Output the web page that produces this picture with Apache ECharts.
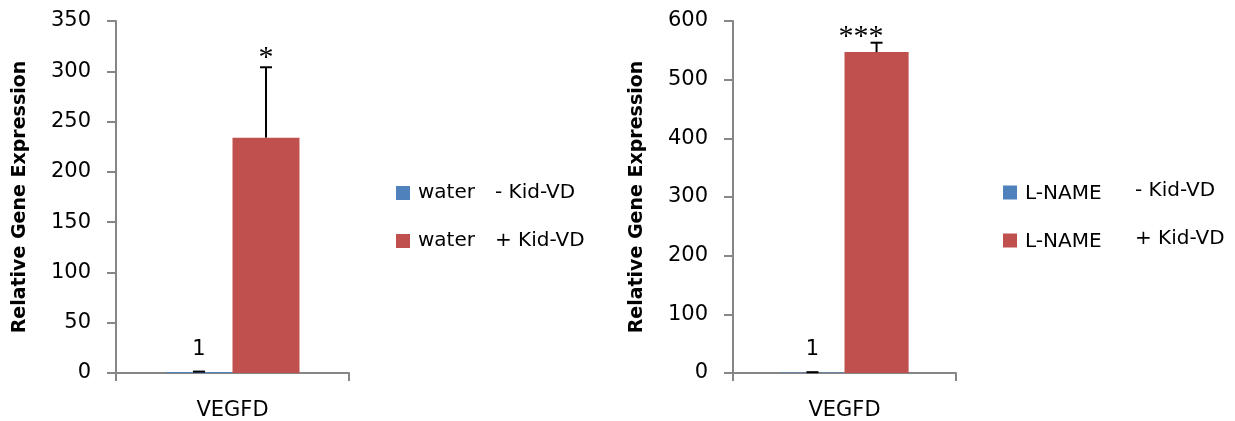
<!DOCTYPE html>
<html>
<head>
<meta charset="utf-8">
<script src="https://cdn.jsdelivr.net/npm/echarts@6/dist/echarts.min.js"></script>
<style>
  html, body { margin: 0; padding: 0; background: #ffffff; }
  #chart { width: 1235px; height: 421px; }
</style>
</head>
<body>
<div id="chart"></div>
<script>
// Gene: single category on each panel
const categories = ['VEGFD'];

// Left panel: water-treated groups
const leftNames = ['water - Kid-VD', 'water + Kid-VD'];
const leftMeans = [1, 234];
const leftErrors = [0.4, 70];
const leftMarks = ['', '*'];
const leftMax = 350;
const leftStep = 50;

// Right panel: L-NAME-treated groups
const rightNames = ['L-NAME - Kid-VD', 'L-NAME + Kid-VD'];
const rightMeans = [1, 547];
const rightErrors = [0.4, 16];
const rightMarks = ['', '***'];
const rightMax = 600;
const rightStep = 100;

const colors = ['#4F81BD', '#C0504D'];
const axisGray = '#868686';
const FONT = 'DejaVu Sans';
const CAT_GAP = 0.425;

function gridAxes(idx, max, step) {
  return {
    x: {
      type: 'category', gridIndex: idx, data: categories,
      axisLine: { lineStyle: { color: axisGray, width: 2 } },
      axisTick: { show: true, alignWithLabel: false, length: 8, lineStyle: { color: axisGray, width: 2 } },
      axisLabel: { color: '#000', fontFamily: FONT, fontSize: 21, margin: 27 }
    },
    y: {
      type: 'value', gridIndex: idx, min: 0, max: max, interval: step,
      name: 'Relative Gene Expression', nameLocation: 'middle', nameGap: 86,
      nameTextStyle: { color: '#000', fontFamily: FONT, fontSize: 19, fontWeight: 'bold' },
      axisLine: { show: true, lineStyle: { color: axisGray, width: 2 } },
      axisTick: { show: true, length: 9, lineStyle: { color: axisGray, width: 2 } },
      axisLabel: { color: '#000', fontFamily: FONT, fontSize: 21, margin: 25 },
      splitLine: { show: false }
    }
  };
}

function barSeries(names, means, idx) {
  return names.map((name, i) => ({
    type: 'bar', name: name, xAxisIndex: idx, yAxisIndex: idx,
    data: [means[i]],
    barGap: '0%', barCategoryGap: (CAT_GAP * 100) + '%',
    itemStyle: { color: colors[i] },
    label: i === 0 ? {
      show: true, position: 'top', distance: 12,
      formatter: (p) => String(p.value),
      color: '#000', fontFamily: FONT, fontSize: 21
    } : { show: false }
  }));
}

function errorSeries(means, errors, marks, idx, markAlign, markDrop) {
  return {
    type: 'custom', xAxisIndex: idx, yAxisIndex: idx, z: 5,
    data: means.map((m, i) => [0, m, errors[i], i]),
    renderItem: function (params, api) {
      const cat = api.value(0), mean = api.value(1), err = api.value(2), slot = api.value(3);
      const band = api.size([1, 0])[0];
      const bw = band * (1 - CAT_GAP) / 2;
      const cx = api.coord([cat, 0])[0] + (slot === 0 ? -bw / 2 : bw / 2);
      const y0 = api.coord([cat, mean])[1];
      const y1 = api.coord([cat, mean + err])[1];
      const stroke = { stroke: '#000', lineWidth: 2 };
      const children = [
        { type: 'line', shape: { x1: cx, y1: y0, x2: cx, y2: y1 }, style: stroke },
        { type: 'line', shape: { x1: cx - 6, y1: y1, x2: cx + 6, y2: y1 }, style: stroke }
      ];
      const mark = marks[params.dataIndex];
      if (mark) {
        children.push({
          type: 'text',
          style: {
            text: mark,
            x: markAlign === 'right' ? cx + 7 : cx,
            y: y1 + markDrop,
            textAlign: markAlign,
            textVerticalAlign: 'bottom',
            font: '30px "Liberation Serif"',
            fill: '#000'
          }
        });
      }
      return { type: 'group', children: children };
    }
  };
}

function legend(names, left, top, nameWidth, lift, gap) {
  return {
    orient: 'vertical', left: left, top: top,
    data: names, itemWidth: 14, itemHeight: 14, itemGap: gap,
    icon: 'rect', selectedMode: false,
    formatter: (name) => {
      const k = name.indexOf(' ');
      return '{a|' + name.slice(0, k) + '}{b|' + name.slice(k + 1) + '}';
    },
    textStyle: {
      rich: {
        a: { fontFamily: FONT, fontSize: 20, color: '#000', width: nameWidth, padding: [lift, 0, 0, 3] },
        b: { fontFamily: FONT, fontSize: 20, color: '#000', padding: [0, 0, lift, 0] }
      }
    }
  };
}

const L = gridAxes(0, leftMax, leftStep);
const R = gridAxes(1, rightMax, rightStep);

const option = {
  animation: false,
  grid: [
    { left: 116, top: 21, width: 233, bottom: 47 },
    { left: 733, top: 21, width: 223, bottom: 47 }
  ],
  xAxis: [L.x, R.x],
  yAxis: [L.y, R.y],
  legend: [
    legend(leftNames, 391, 178, 77, 0, 28),
    legend(rightNames, 998, 176, 110, 3, 25)
  ],
  series: [
    ...barSeries(leftNames, leftMeans, 0),
    ...barSeries(rightNames, rightMeans, 1),
    errorSeries(leftMeans, leftErrors, leftMarks, 0, 'center', 6),
    errorSeries(rightMeans, rightErrors, rightMarks, 1, 'right', 9)
  ]
};

const chart = echarts.init(document.getElementById('chart'), null, { renderer: 'canvas' });
chart.setOption(option);
</script>
</body>
</html>
